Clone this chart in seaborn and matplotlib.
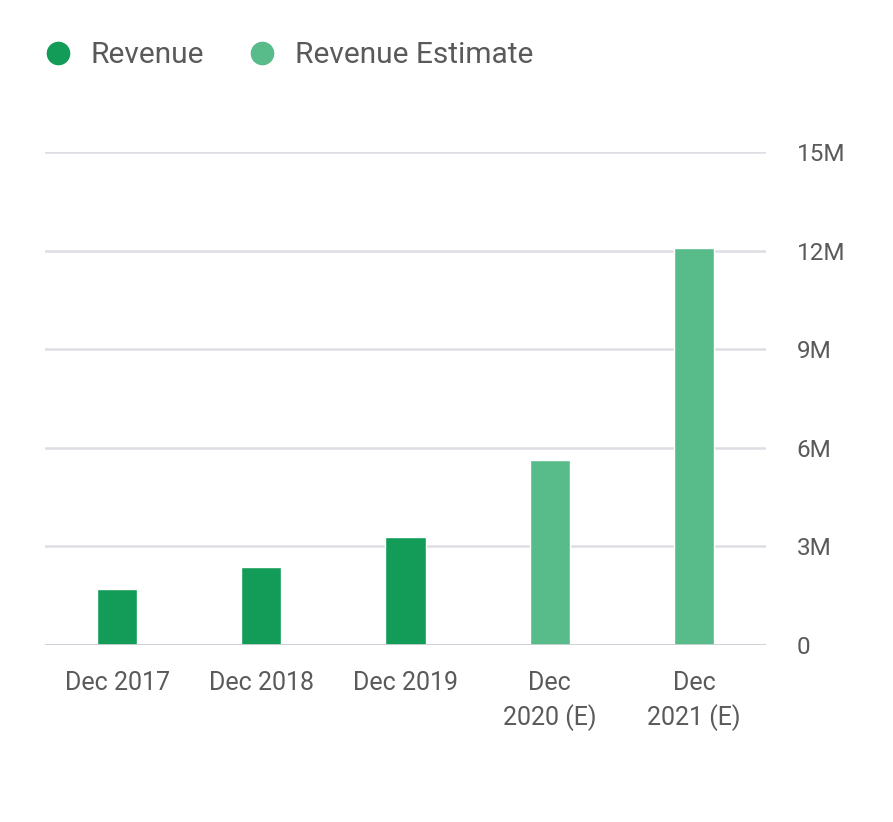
"""
Revenue vs revenue estimate bar chart, redrawn with seaborn.
"""
import matplotlib.pyplot as plt
import pandas as pd
import seaborn as sns
from matplotlib.lines import Line2D
from matplotlib.ticker import FuncFormatter

# data
periods = ["Dec 2017", "Dec 2018", "Dec 2019", "Dec\n2020 (E)", "Dec\n2021 (E)"]
revenue = [1.69e6, 2.37e6, 3.30e6, 5.64e6, 12.09e6]
kinds = ["Revenue", "Revenue", "Revenue", "Revenue Estimate", "Revenue Estimate"]
y_ticks = [0, 3e6, 6e6, 9e6, 12e6, 15e6]

DARK_GREEN = "#139c58"
LIGHT_GREEN = "#57bb8a"
TEXT = "#5a5a5a"
GRID = "#dcdee2"

sns.set_theme(style="white")
plt.rcParams["font.family"] = ["Roboto", "DejaVu Sans"]

dataf = pd.DataFrame({"period": periods, "revenue": revenue, "kind": kinds})

fig = plt.figure(figsize=(8.93, 8.22), dpi=100)
ax = fig.add_axes([0.0504, 0.2153, 0.8074, 0.5998])

sns.barplot(
    data=dataf,
    x="period",
    y="revenue",
    hue="kind",
    palette={"Revenue": DARK_GREEN, "Revenue Estimate": LIGHT_GREEN},
    dodge=False,
    width=0.28,
    saturation=1,
    legend=False,
    ax=ax,
)

ax.set_xlim(-0.5, len(periods) - 0.5)
ax.set_ylim(0, 15e6)
ax.set_yticks(y_ticks)
ax.yaxis.set_major_formatter(
    FuncFormatter(lambda v, _: "0" if v == 0 else f"{v / 1e6:.0f}M")
)
ax.yaxis.tick_right()
ax.set_xlabel("")
ax.set_ylabel("")

for y in y_ticks[1:]:
    ax.axhline(y, color=GRID, lw=1.8, zorder=0)
ax.axhline(0, color="#c8cdd5", lw=2, zorder=3)

for side in ("top", "right", "left", "bottom"):
    ax.spines[side].set_visible(False)

ax.tick_params(axis="x", length=0, pad=19, labelsize=18, labelcolor=TEXT)
ax.tick_params(axis="y", length=0, pad=22, labelsize=17.5, labelcolor=TEXT)
for lbl in ax.get_xticklabels():
    lbl.set_linespacing(1.4)
    lbl.set_horizontalalignment("center")
for lbl in ax.get_yticklabels():
    lbl.set_horizontalalignment("left")

handles = [
    Line2D([], [], marker="o", ls="", ms=16, color=DARK_GREEN, label="Revenue"),
    Line2D([], [], marker="o", ls="", ms=16, color=LIGHT_GREEN, label="Revenue Estimate"),
]
fig.legend(
    handles=handles,
    loc="center left",
    bbox_to_anchor=(0.048, 1 - 55 / 822),
    ncol=2,
    frameon=False,
    fontsize=21.5,
    labelcolor=TEXT,
    borderpad=0,
    borderaxespad=0,
    handlelength=1.0,
    handletextpad=0.6,
    columnspacing=1.44,
)

fig.savefig("out.png", dpi=100, facecolor="white")
